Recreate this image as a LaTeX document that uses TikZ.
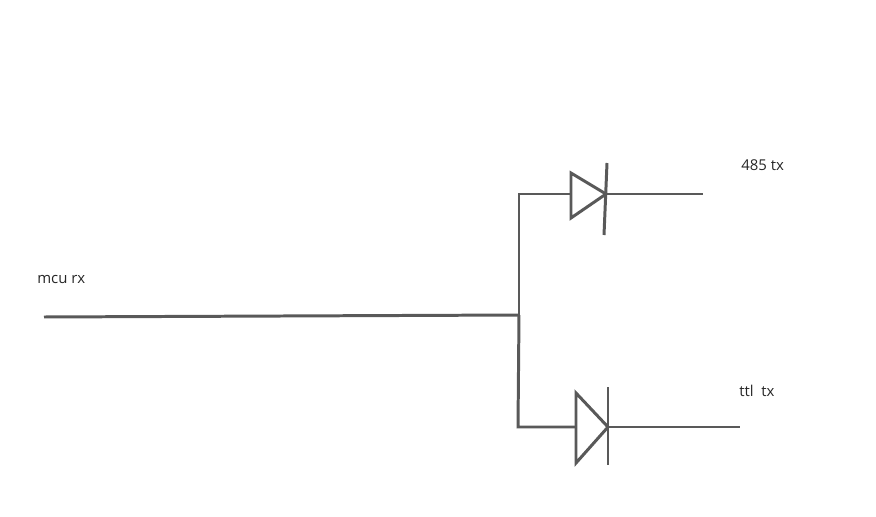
\documentclass[tikz,border=0pt]{standalone}
\usepackage{fontspec}
\setmainfont{Open Sans}
\definecolor{WireColor}{rgb}{0.35,0.35,0.35}
\tikzstyle{wire}=[draw=WireColor, line width=1.7pt]
\tikzstyle{label}=[text=black!85, font=\fontsize{8.5pt}{10pt}\selectfont, anchor=west, inner sep=0pt]

\begin{document}
\begin{tikzpicture}[x=0.02cm, y=-0.02cm]
    \useasboundingbox (0,0) rectangle (876,517);
    % Labels
    % --------------------------------------------------------------------------
    \node at (37, 280)  (mcu_text) [label] {mcu rx};
    \node at (741, 165) (rs_text)  [label] {485 tx};
    \node at (739, 391) (ttl_text) [label] {ttl\ \ tx};

    % Points
    % --------------------------------------------------------------------------
    \coordinate (mcu_in)     at (44, 317);
    \coordinate (junction)   at (519, 315);
    \coordinate (top_corner) at (519, 194);
    \coordinate (bot_corner) at (518, 427);
    \coordinate (top_anode)  at (571, 194);
    \coordinate (top_cath)   at (606, 194);
    \coordinate (top_out)    at (703, 194);
    \coordinate (bot_anode)  at (576, 427);
    \coordinate (bot_cath)   at (608, 427);
    \coordinate (bot_out)    at (740, 427);

    % Wires
    % --------------------------------------------------------------------------
    \draw[wire] (mcu_in) -- (junction);
    \draw[wire] (junction) -- (top_corner) -- (top_anode);
    \draw[wire] (junction) -- (bot_corner) -- (bot_anode);
    \draw[wire] (top_cath) -- (top_out);
    \draw[wire] (bot_cath) -- (bot_out);

    % Diodes
    % --------------------------------------------------------------------------
    \draw[wire, line join=miter] (571,173) -- (top_cath) -- (571,218) -- cycle;
    \draw[wire] (607,163) -- (604,235);
    \draw[wire, line join=miter] (576,393) -- (bot_cath) -- (576,463) -- cycle;
    \draw[wire] (608,387) -- (608,465);
\end{tikzpicture}
\end{document}
